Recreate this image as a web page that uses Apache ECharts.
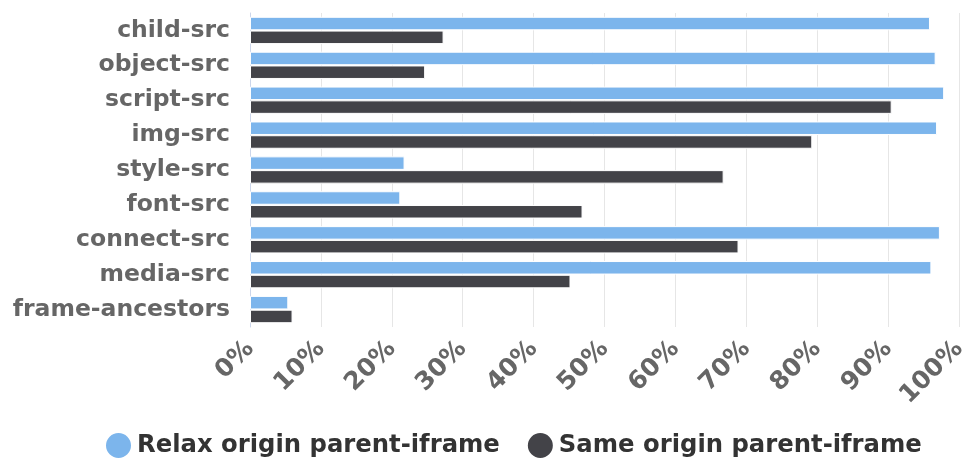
<!DOCTYPE html>
<html>
<head>
<meta charset="utf-8">
<script src="https://cdn.jsdelivr.net/npm/echarts@6/dist/echarts.min.js"></script>
<style>
  html, body { margin: 0; padding: 0; background: #fff; }
  #chart { width: 970px; height: 460px; }
</style>
</head>
<body>
<div id="chart"></div>
<script>
// CSP directives
var categories = ['child-src', 'object-src', 'script-src', 'img-src', 'style-src',
  'font-src', 'connect-src', 'media-src', 'frame-ancestors']
var relaxOrigin = [95.9, 96.7, 97.9, 96.9, 21.8, 21.2, 97.3, 96.1, 5.4]
var sameOrigin = [27.3, 24.7, 90.5, 79.3, 66.8, 46.9, 68.9, 45.2, 6.0]
var tickValues = [0, 10, 20, 30, 40, 50, 60, 70, 80, 90, 100]

var chart = echarts.init(document.getElementById('chart'))
chart.setOption({
  animation: false,
  grid: { left: 250, right: 5, top: 13, bottom: 133 },
  legend: {
    bottom: -5,
    left: 99,
    icon: 'circle',
    itemWidth: 27,
    itemHeight: 27,
    itemGap: 26,
    textStyle: {
      fontFamily: 'DejaVu Sans',
      fontWeight: 'bold',
      fontSize: 24.3,
      color: '#333'
    },
    data: ['Relax origin parent-iframe', 'Same origin parent-iframe']
  },
  xAxis: {
    type: 'value',
    min: tickValues[0],
    max: tickValues[tickValues.length - 1],
    interval: 10,
    axisLine: { show: false },
    axisTick: { show: false },
    splitLine: { lineStyle: { color: '#e6e6e6', width: 1 } },
    axisLabel: {
      rotate: 45,
      margin: 18,
      formatter: '{value}%',
      fontFamily: 'DejaVu Sans',
      fontWeight: 'bold',
      fontSize: 25,
      color: '#666'
    }
  },
  yAxis: {
    type: 'category',
    inverse: true,
    data: categories,
    axisLine: { lineStyle: { color: '#ccd6eb' } },
    axisTick: { length: 12, lineStyle: { color: '#ccd6eb' } },
    axisLabel: {
      margin: 20,
      fontFamily: 'DejaVu Sans',
      fontWeight: 'bold',
      fontSize: 23.5,
      color: '#666'
    }
  },
  series: [
    {
      name: 'Relax origin parent-iframe',
      type: 'bar',
      data: relaxOrigin,
      barWidth: 13.5,
      barGap: '2%',
      itemStyle: { color: '#7cb5ec', borderColor: '#fff', borderWidth: 1 }
    },
    {
      name: 'Same origin parent-iframe',
      type: 'bar',
      data: sameOrigin,
      barWidth: 13.5,
      itemStyle: { color: '#434348', borderColor: '#fff', borderWidth: 1 }
    }
  ]
})
</script>
</body>
</html>
